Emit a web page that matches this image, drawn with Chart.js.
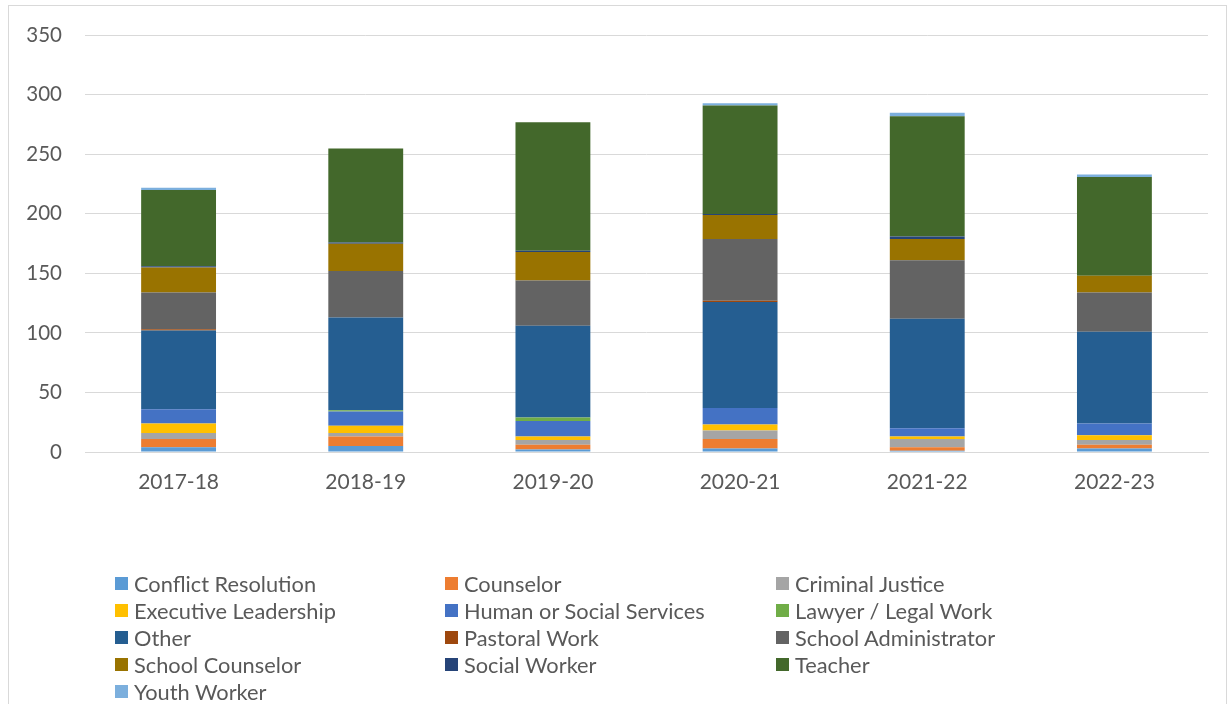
<!DOCTYPE html>
<html>
<head>
<meta charset="utf-8">
<script src="https://cdn.jsdelivr.net/npm/chart.js@4"></script>
<style>
  html, body { margin: 0; padding: 0; background: #fff; }
  body { width: 1230px; height: 704px; position: relative; overflow: hidden; font-family: Lato, "Noto Sans", sans-serif; }
  #frame { position: absolute; left: 8px; top: 5px; width: 1219px; height: 720px; border: 1px solid #d9d9d9; box-sizing: border-box; }
  #wrap { position: absolute; left: 0; top: 0; width: 1230px; height: 520px; }
  #legend { position: absolute; left: 0; top: 0; width: 1230px; height: 704px; pointer-events: none; }
  .item { position: absolute; height: 26px; display: flex; align-items: center; color: #595959; font-size: 21.8px; white-space: nowrap; }
  .sw { width: 13px; height: 13px; margin-right: 6px; flex: none; }
</style>
</head>
<body>
<div id="frame"></div>
<div id="wrap"><canvas id="c" width="1230" height="520"></canvas></div>
<div id="legend"></div>
<script>
const categories = ["2017-18", "2018-19", "2019-20", "2020-21", "2021-22", "2022-23"];
const yTicks = [0, 50, 100, 150, 200, 250, 300, 350];

const conflictResolution  = [4, 5, 2, 3, 1, 3];
const counselor           = [7, 8, 4, 8, 3, 3];
const criminalJustice     = [5, 3, 4, 7, 7, 4];
const executiveLeadership = [8, 6, 3, 5, 2, 4];
const humanSocialServices = [12, 12, 13, 14, 7, 10];
const lawyerLegalWork     = [0, 1, 3, 0, 0, 0];
const other               = [66, 78, 77, 89, 92, 77];
const pastoralWork        = [1, 0, 0, 1, 0, 0];
const schoolAdministrator = [31, 39, 38, 52, 49, 33];
const schoolCounselor     = [21, 23, 24, 20, 18, 14];
const socialWorker        = [1, 1, 1, 1, 2, 0];
const teacher             = [64, 79, 108, 91, 101, 83];
const youthWorker         = [2, 0, 0, 2, 3, 2];

const seriesNames = ["Conflict Resolution", "Counselor", "Criminal Justice", "Executive Leadership",
  "Human or Social Services", "Lawyer / Legal Work", "Other", "Pastoral Work", "School Administrator",
  "School Counselor", "Social Worker", "Teacher", "Youth Worker"];
const seriesValues = [conflictResolution, counselor, criminalJustice, executiveLeadership,
  humanSocialServices, lawyerLegalWork, other, pastoralWork, schoolAdministrator,
  schoolCounselor, socialWorker, teacher, youthWorker];
const seriesColors = ["#5B9BD5", "#ED7D31", "#A5A5A5", "#FFC000", "#4472C4", "#70AD47", "#255E91",
  "#9E480E", "#636363", "#997300", "#264478", "#43682B", "#7CAFDD"];

const datasets = seriesNames.map((n, i) => ({
  label: n,
  data: seriesValues[i],
  backgroundColor: seriesColors[i],
  borderWidth: 0,
  barPercentage: 0.4,
  categoryPercentage: 1.0
}));

const chart = new Chart(document.getElementById('c'), {
  type: 'bar',
  data: { labels: categories, datasets },
  options: {
    responsive: false,
    animation: false,
    layout: { padding: { top: 34, right: 22, bottom: 0, left: 0 } },
    plugins: { legend: { display: false }, tooltip: { enabled: false } },
    scales: {
      x: {
        stacked: true,
        grid: { display: false, drawTicks: false },
        border: { display: true, color: '#d9d9d9', width: 1 },
        ticks: { color: '#595959', font: { family: 'Lato', size: 21 }, padding: 18 },
        afterFit: s => { s.height = 68; }
      },
      y: {
        stacked: true,
        min: 0, max: 350,
        afterBuildTicks: s => { s.ticks = yTicks.map(v => ({ value: v })); },
        grid: { color: '#d9d9d9', lineWidth: 1, drawTicks: false },
        border: { display: false },
        ticks: { color: '#595959', font: { family: 'Lato', size: 20.5 }, padding: 23 },
        afterFit: s => { s.width = 85; }
      }
    }
  }
});

// HTML legend built from the chart's datasets (3 columns, Excel-style)
const legend = document.getElementById('legend');
const colX = [115, 445, 776];
const rowY = [583, 610, 637, 664, 691];
chart.data.datasets.forEach((ds, i) => {
  const el = document.createElement('div');
  el.className = 'item';
  el.style.left = colX[i % 3] + 'px';
  el.style.top = (rowY[Math.floor(i / 3)] - 13) + 'px';
  const sw = document.createElement('span');
  sw.className = 'sw';
  sw.style.background = ds.backgroundColor;
  const tx = document.createElement('span');
  tx.textContent = ds.label;
  el.appendChild(sw); el.appendChild(tx);
  legend.appendChild(el);
});
</script>
</body>
</html>
